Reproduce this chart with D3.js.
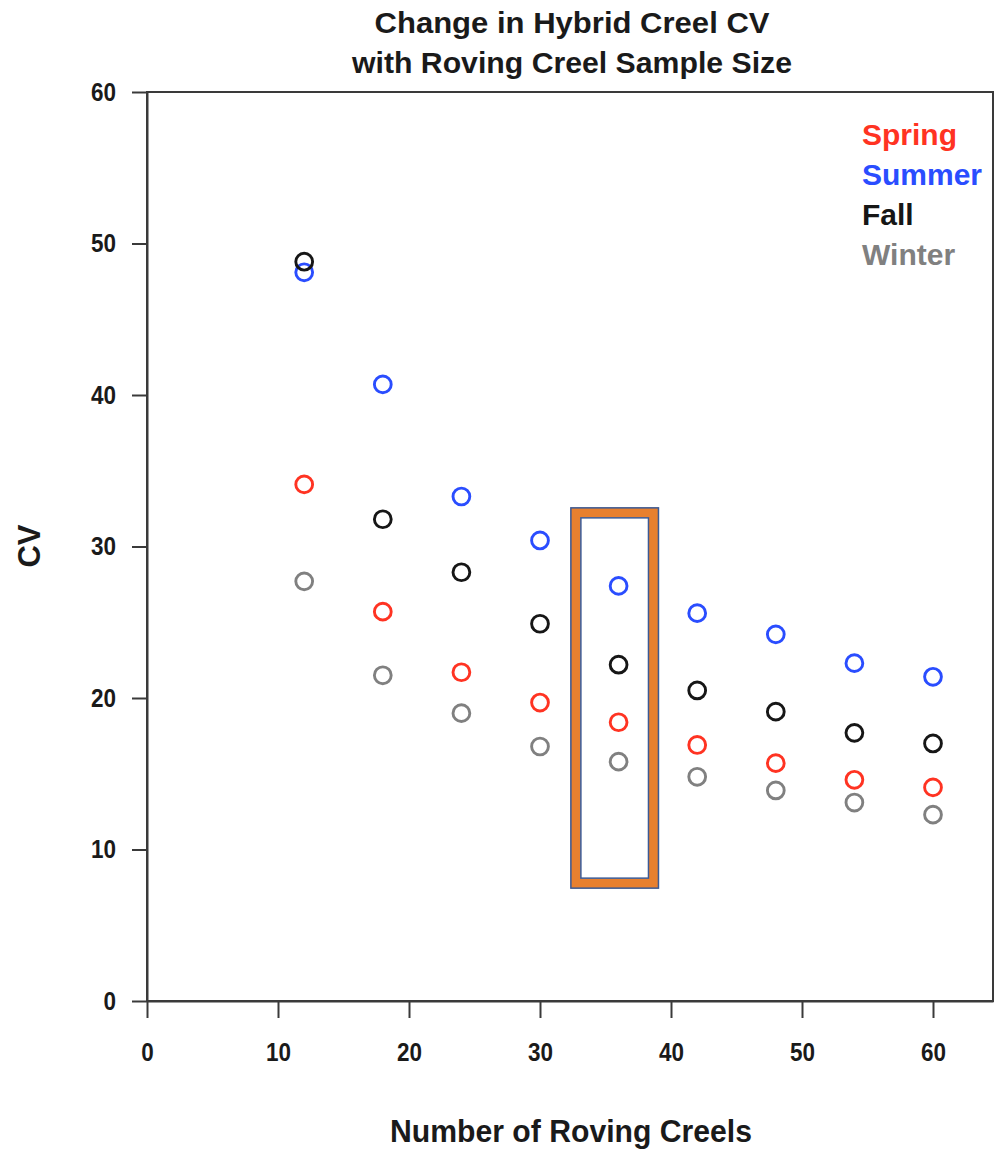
<!DOCTYPE html>
<html>
<head>
<meta charset="utf-8">
<script src="https://cdn.jsdelivr.net/npm/d3@7"></script>
<style>
  body { margin: 0; background: #fff; }
  text { font-family: "Liberation Sans", Arial, sans-serif; font-weight: bold; }
</style>
</head>
<body>
<script>
// data
var creels = [12, 18, 24, 30, 36, 42, 48, 54, 60];
var spring = [34.1, 25.7, 21.7, 19.7, 18.4, 16.9, 15.7, 14.6, 14.1];
var summer = [48.1, 40.7, 33.3, 30.4, 27.4, 25.6, 24.2, 22.3, 21.4];
var fall   = [48.8, 31.8, 28.3, 24.9, 22.2, 20.5, 19.1, 17.7, 17.0];
var winter = [27.7, 21.5, 19.0, 16.8, 15.8, 14.8, 13.9, 13.1, 12.3];
var seasons = ["Spring", "Summer", "Fall", "Winter"];
var xTicks = [0, 10, 20, 30, 40, 50, 60];
var yTicks = [0, 10, 20, 30, 40, 50, 60];
// highlighted sample size (the boxed column), in data units
var boxX = [32.3, 39.1], boxY = [7.4, 32.6];

var colors = {Spring: "#ff3322", Summer: "#2a4dff", Fall: "#161616", Winter: "#808080"};
var series = {Spring: spring, Summer: summer, Fall: fall, Winter: winter};

var W = 997, H = 1152;
var pLeft = 147, pRight = 993, pTop = 92, pBottom = 1001;

var svg = d3.select("body").append("svg")
  .attr("width", W).attr("height", H);

var x = d3.scaleLinear().domain([0, 64.58]).range([pLeft, pRight]);
var y = d3.scaleLinear().domain([0, 60]).range([pBottom, pTop]);

// frame
svg.append("rect")
  .attr("x", pLeft).attr("y", pTop)
  .attr("width", pRight - pLeft).attr("height", pBottom - pTop)
  .attr("fill", "none").attr("stroke", "#3a3a3a").attr("stroke-width", 2);

var yAxis = svg.append("g")
  .attr("transform", "translate(" + pLeft + ",0)")
  .call(d3.axisLeft(y).tickValues(yTicks).tickSize(15).tickSizeOuter(0).tickPadding(16));
var xAxis = svg.append("g")
  .attr("transform", "translate(0," + pBottom + ")")
  .call(d3.axisBottom(x).tickValues(xTicks).tickSize(17).tickSizeOuter(0).tickPadding(25));

[xAxis, yAxis].forEach(function(a){
  a.select(".domain").attr("stroke", "#3a3a3a").attr("stroke-width", 2);
  a.selectAll(".tick line").attr("stroke", "#3a3a3a").attr("stroke-width", 2);
  a.selectAll(".tick text")
    .attr("fill", "#1a1a1a")
    .attr("textLength", function(d){ return String(d).length * 12.5; })
    .attr("lengthAdjust", "spacingAndGlyphs")
    .style("font-size", "26px")
    .style("font-family", "'Liberation Sans', Arial, sans-serif")
    .style("font-weight", "bold");
});

// highlight frame
var bx0 = x(boxX[0]), bx1 = x(boxX[1]), by0 = y(boxY[1]), by1 = y(boxY[0]);
svg.append("rect")
  .attr("x", bx0 + 5.5).attr("y", by0 + 5.5)
  .attr("width", bx1 - bx0 - 11).attr("height", by1 - by0 - 11)
  .attr("fill", "none").attr("stroke", "#e8802f").attr("stroke-width", 10);
svg.append("rect")
  .attr("x", bx0 + 0.75).attr("y", by0 + 0.75)
  .attr("width", bx1 - bx0 - 1.5).attr("height", by1 - by0 - 1.5)
  .attr("fill", "none").attr("stroke", "#3b5a96").attr("stroke-width", 1.5);
svg.append("rect")
  .attr("x", bx0 + 10.75).attr("y", by0 + 10.75)
  .attr("width", bx1 - bx0 - 21.5).attr("height", by1 - by0 - 21.5)
  .attr("fill", "none").attr("stroke", "#3b5a96").attr("stroke-width", 1.5);

// points (fall drawn last so it sits on top as in the picture)
["Winter", "Spring", "Summer", "Fall"].forEach(function(s){
  svg.append("g").selectAll("circle")
    .data(creels.map(function(c, i){ return {x: c, v: series[s][i]}; }))
    .enter().append("circle")
      .attr("cx", function(d){ return x(d.x); })
      .attr("cy", function(d){ return y(d.v); })
      .attr("r", 8.4)
      .attr("fill", "none")
      .attr("stroke", colors[s])
      .attr("stroke-width", 2.9);
});

// legend
svg.append("g").selectAll("text")
  .data(seasons)
  .enter().append("text")
    .attr("x", 862)
    .attr("y", function(d, i){ return 145 + i * 40; })
    .attr("fill", function(d){ return colors[d]; })
    .style("font-size", "30px")
    .text(function(d){ return d; });

// titles
svg.append("text")
  .attr("x", 572).attr("y", 33)
  .attr("text-anchor", "middle")
  .attr("textLength", 395).attr("lengthAdjust", "spacingAndGlyphs")
  .style("font-size", "29px")
  .attr("fill", "#1a1a1a")
  .text("Change in Hybrid Creel CV");
svg.append("text")
  .attr("x", 572).attr("y", 73)
  .attr("text-anchor", "middle")
  .attr("textLength", 440).attr("lengthAdjust", "spacingAndGlyphs")
  .style("font-size", "29px")
  .attr("fill", "#1a1a1a")
  .text("with Roving Creel Sample Size");

svg.append("text")
  .attr("x", 571).attr("y", 1142)
  .attr("text-anchor", "middle")
  .attr("textLength", 362).attr("lengthAdjust", "spacingAndGlyphs")
  .style("font-size", "31px")
  .attr("fill", "#1a1a1a")
  .text("Number of Roving Creels");

svg.append("text")
  .attr("transform", "translate(40,546) rotate(-90)")
  .attr("text-anchor", "middle")
  .style("font-size", "31px")
  .attr("fill", "#1a1a1a")
  .text("CV");
</script>
</body>
</html>
